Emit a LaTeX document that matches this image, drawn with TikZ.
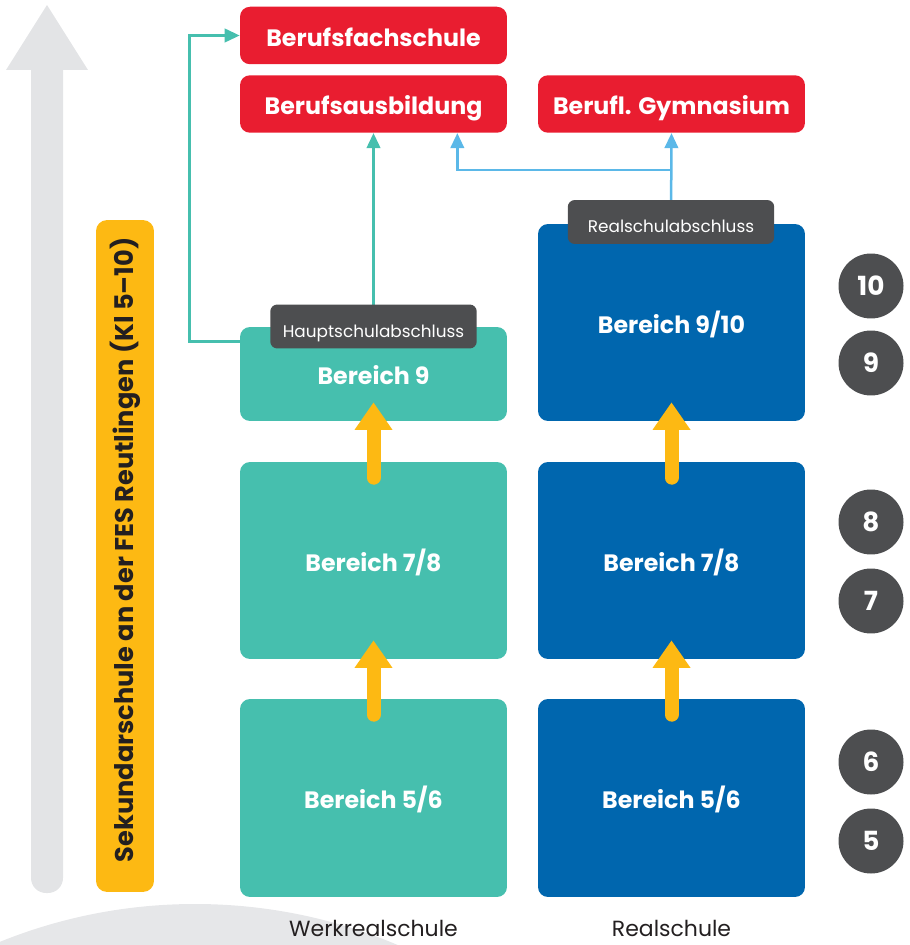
\documentclass[tikz,border=0pt]{standalone}
\usepackage{fontspec}
\setmainfont{Poppins}
\usetikzlibrary{arrows.meta,calc,positioning}
\definecolor{fesred}{HTML}{E91D30}
\definecolor{festeal}{HTML}{46BFAE}
\definecolor{fesblue}{HTML}{0066AE}
\definecolor{fesgrey}{HTML}{4D4E50}
\definecolor{fesyellow}{HTML}{FDB913}
\definecolor{feslight}{HTML}{E3E4E6}
\definecolor{fessky}{HTML}{5BB8E8}
\definecolor{fesink}{HTML}{231F20}

\begin{document}
\begin{tikzpicture}[x=0.02cm, y=-0.02cm,
    box/.style={rectangle, rounded corners=0.2cm, minimum width=5.34cm,
      inner sep=0pt, text=white, text height=1.2em, text depth=0pt,
      font=\bfseries\fontsize{13.5}{16}\selectfont},
    redbox/.style={box, fill=fesred, minimum height=1.15cm},
    wrsbox/.style={box, fill=festeal},
    rsbox/.style={box, fill=fesblue},
    degree/.style={rectangle, rounded corners=0.14cm, fill=fesgrey, text=white,
      minimum width=4.13cm, minimum height=0.88cm, inner sep=0pt,
      text height=1.2em, text depth=0pt, font=\fontsize{9.6}{11}\selectfont},
    grade/.style={circle, fill=fesgrey, text=white, minimum size=1.3cm,
      inner sep=0pt, font=\bfseries\fontsize{15}{17}\selectfont},
    tealline/.style={draw=festeal, line width=0.05cm,
      -{Triangle[width=0.27cm,length=0.3cm]}},
    skyline/.style={draw=fessky, line width=0.05cm,
      -{Triangle[width=0.27cm,length=0.3cm]}},
    upstep/.style={draw=fesyellow, line width=0.28cm, line cap=round,
      -{Triangle[width=0.72cm,length=0.55cm]}}]
  \useasboundingbox (0,0) rectangle (909,945);
  \clip (0,0) rectangle (909,945);

  % background: arc and big arrow
  \fill[feslight!90!white] (195,1424) circle (520);
  \fill[feslight, rounded corners=0.3cm] (31,70) -- (31,893) -- (63,893) -- (63,70);
  \fill[feslight] (31,60) rectangle (63,80);
  \fill[feslight] (6,70) -- (47,5) -- (88,70) -- cycle;

  % yellow bar
  \node[rectangle, rounded corners=0.22cm, fill=fesyellow, minimum width=1.16cm,
    minimum height=13.44cm, inner sep=0pt] (bar) at (125,556) {};
  \node[rotate=90, text=fesink, font=\bfseries\fontsize{14.6}{16}\selectfont]
    at ($(bar.center)+(0,-6)$) {Sekundarschule an der FES Reutlingen (Kl 5--10)};

  % destinations
  \node[redbox] (bfs) at (373.5,35.5) {Berufsfachschule};
  \node[redbox] (bab) at (373.5,104) {Berufsausbildung};
  \node[redbox] (bgym) at (671.5,104) {Berufl. Gymnasium};

  % Werkrealschule
  \node[wrsbox, minimum height=1.88cm] (w9) at (373.5,374) {Bereich 9};
  \node[wrsbox, minimum height=3.94cm] (w78) at (373.5,560.5) {Bereich 7/8};
  \node[wrsbox, minimum height=3.96cm] (w56) at (373.5,798) {Bereich 5/6};

  % Realschule
  \node[rsbox, minimum height=3.94cm] (r910) at (671.5,322.5) {Bereich 9/10};
  \node[rsbox, minimum height=3.94cm] (r78) at (671.5,560.5) {Bereich 7/8};
  \node[rsbox, minimum height=3.96cm] (r56) at (671.5,798) {Bereich 5/6};

  % yellow steps
  \draw[upstep] ($(w56.north)+(0,16)$) -- ($(w78.south)+(0,-19)$);
  \draw[upstep] ($(w78.north)+(0,16)$) -- ($(w9.south)+(0,-19)$);
  \draw[upstep] ($(r56.north)+(0,16)$) -- ($(r78.south)+(0,-19)$);
  \draw[upstep] ($(r78.north)+(0,16)$) -- ($(r910.south)+(0,-19)$);

  % degrees and connectors
  \coordinate (hsa) at (373.5,326.5);
  \coordinate (rsa) at (671,222);
  \draw[tealline] (hsa) -- (bab.south);
  \draw[tealline] ($(w9.north west)+(0,15)$) -- ++(-50,0) |- (bfs.west);
  \draw[skyline] (rsa) -- (bgym.south);
  \draw[skyline] ($(rsa)+(0,-52)$) -| ($(bab.south east)+(-50,0)$);
  \node[degree] (hsabox) at (hsa) {Hauptschulabschluss};
  \node[degree] (rsabox) at (rsa) {Realschulabschluss};

  % grades
  \node[grade] (k10) at (871,286) {10};
  \node[grade] (k9) at (871,363) {9};
  \node[grade] (k8) at (871,522) {8};
  \node[grade] (k7) at (871,601) {7};
  \node[grade] (k6) at (871,762) {6};
  \node[grade] (k5) at (871,841) {5};

  % school types
  \node[text=fesink, inner sep=0pt, font=\fontsize{12.5}{15}\selectfont] (wrs) at (373.5,928) {Werkrealschule};
  \node[text=fesink, inner sep=0pt, font=\fontsize{12.5}{15}\selectfont] (rs) at (671.5,928) {Realschule};
\end{tikzpicture}
\end{document}
